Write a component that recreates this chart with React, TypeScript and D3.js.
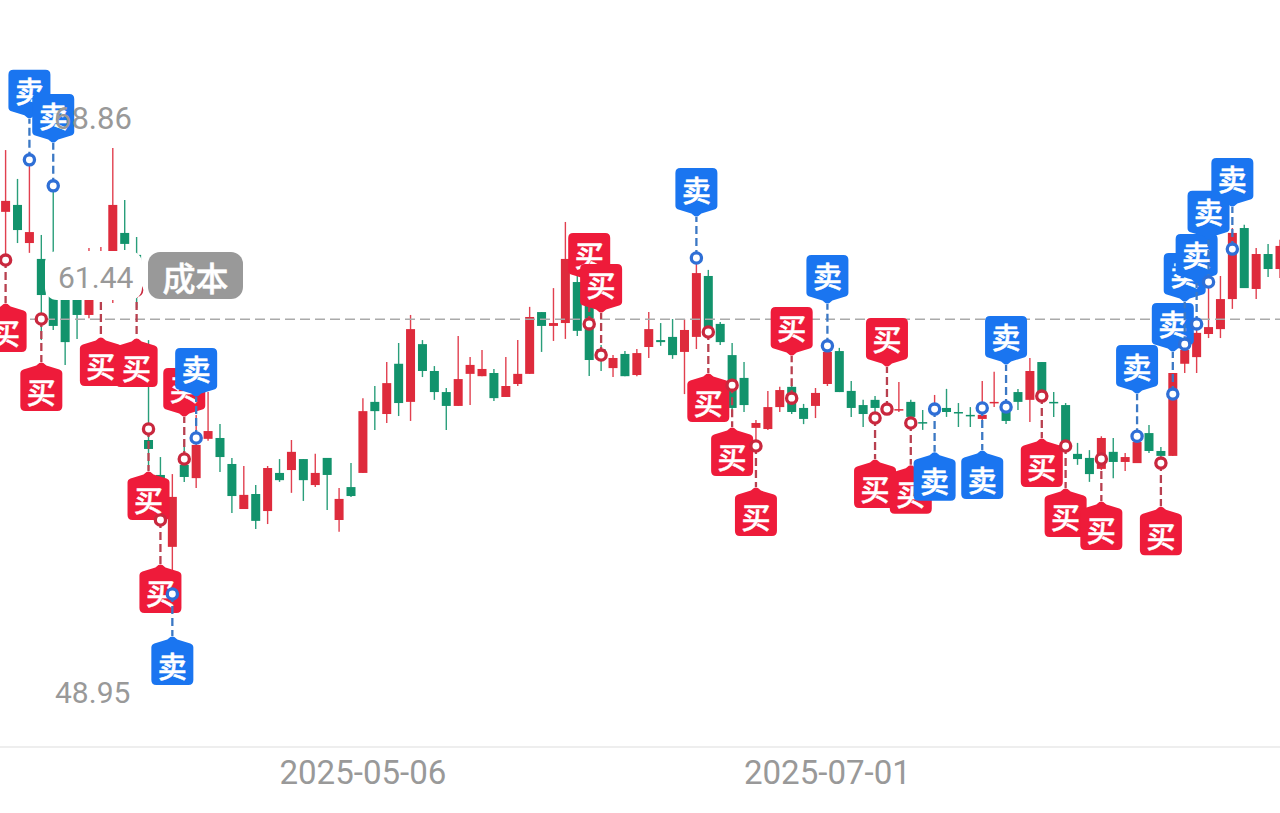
import React from "react";
import * as d3 from "d3";

const opens = [65.16,65.40,64.08,63.53,62.63,62.45,62.39,61.59,62.28,63.15,64.43,63.67,57.26,56.05,53.56,56.40,55.94,57.30,57.33,56.43,54.87,55.39,54.80,56.12,56.22,56.60,55.70,56.64,54.49,55.63,56.12,58.58,58.16,59.90,58.58,60.58,59.65,58.92,58.44,59.55,59.47,59.58,58.75,59.20,59.55,61.69,61.21,61.31,62.73,62.11,60.41,59.75,60.24,59.51,60.48,60.72,60.83,60.31,60.83,62.94,61.28,60.20,59.41,57.68,57.64,58.40,59.10,58.37,58.44,59.20,60.34,58.96,58.47,58.65,58.47,58.30,58.58,57.88,58.26,58.37,58.23,58.13,57.99,58.54,58.23,58.92,58.65,59.96,58.58,58.47,56.78,56.64,56.26,56.85,56.50,56.46,57.50,56.88,56.71,59.90,60.13,60.93,61.10,62.14,64.60,62.49,63.70,63.18];
const closes = [65.54,64.53,64.46,62.28,61.21,60.65,61.59,62.28,63.15,65.40,64.05,62.28,56.95,54.66,55.29,55.98,57.09,57.57,56.67,55.32,55.36,54.46,56.29,55.87,56.85,55.87,56.12,56.05,55.22,55.32,58.26,58.26,59.23,58.54,61.10,59.65,58.92,58.44,59.37,59.86,59.72,58.71,59.13,59.55,61.52,61.21,61.31,63.53,61.04,60.03,60.13,60.10,59.47,60.27,61.10,60.65,60.20,61.07,63.04,61.17,60.65,58.37,58.47,57.85,58.40,58.99,58.23,57.99,58.89,60.31,58.92,58.37,58.16,58.37,58.20,58.33,58.06,57.85,58.44,58.23,58.20,58.09,58.13,58.58,57.92,58.58,59.65,58.82,58.54,57.16,56.60,56.08,57.33,56.50,56.67,57.19,56.88,56.71,59.58,60.38,60.97,61.17,62.14,64.43,62.52,63.70,63.18,63.98];
const highs = [67.30,66.30,66.96,64.36,66.06,62.80,62.63,63.91,63.94,67.37,65.57,64.29,60.72,56.67,56.08,57.26,58.13,58.92,57.81,56.64,56.36,55.70,56.36,56.60,57.26,56.60,56.78,56.64,55.60,56.46,58.71,59.13,59.96,60.62,61.59,60.72,59.82,59.06,60.86,60.13,60.38,59.72,60.13,60.72,61.87,61.69,62.52,64.81,63.15,62.45,60.55,60.20,60.34,60.41,61.69,61.31,61.45,61.45,63.56,63.15,61.35,60.62,59.96,57.95,58.96,59.10,59.16,58.51,59.06,60.52,60.45,59.30,58.65,58.78,58.51,59.27,58.65,58.30,58.82,59.03,58.54,58.40,59.30,59.62,58.58,59.03,60.10,59.96,58.92,58.54,57.16,56.91,57.39,57.33,56.81,57.39,57.78,57.02,59.58,60.58,61.28,62.73,62.94,64.60,64.71,63.91,64.05,64.19];
const lows = [63.49,64.08,63.74,60.72,61.07,59.86,60.76,61.48,62.11,62.00,63.84,61.83,56.22,54.32,51.93,55.81,55.60,57.23,56.15,54.73,54.87,54.18,54.35,55.81,55.43,55.15,55.63,54.84,54.08,55.29,56.12,57.61,57.85,58.09,57.92,59.44,58.65,57.61,58.44,58.47,59.47,58.61,58.75,59.13,59.55,60.31,60.69,60.76,60.86,59.48,59.65,59.44,59.47,59.47,60.10,60.52,60.07,58.85,60.41,60.90,60.55,58.30,58.23,57.02,57.61,58.23,58.16,57.81,58.02,59.13,58.92,58.06,57.71,58.06,58.13,58.23,57.85,57.61,58.23,58.06,57.71,57.71,57.95,58.40,57.81,58.30,57.88,58.75,58.06,57.02,56.40,55.81,56.22,55.94,56.19,56.46,56.81,56.46,56.71,59.58,59.58,60.79,60.79,61.80,62.52,62.14,62.90,62.87];

const buyIndex = [0,3,8,11,12,13,15,49,50,59,61,63,66,73,74,76,87,89,92,97];
const buyPrice = [63.49,61.45,62.45,62.45,57.64,54.49,56.60,61.28,60.20,61.00,59.16,57.05,58.71,58.02,58.33,57.85,58.78,57.05,56.60,56.46];
const buyTagPrice = [62.00,59.96,60.83,60.79,56.19,52.97,58.06,62.73,61.66,59.58,57.71,55.63,60.17,56.60,59.79,56.40,57.33,55.60,55.15,54.97];

const sellIndex = [2,4,14,16,58,69,78,82,84,95,98,99,100,101,103];
const sellPrice = [66.96,66.06,51.93,57.33,63.56,60.52,58.33,58.37,58.40,57.39,58.85,60.58,61.28,62.73,63.87];
const sellTagPrice = [68.38,67.54,50.47,58.75,64.98,61.97,56.85,56.91,59.86,58.85,60.31,62.04,62.70,64.19,65.33];

const priceHigh = 68.86;
const priceLow = 48.95;
const costPrice = 61.44;
const dateIndex = [30, 69];
const dateLabels = ["2025-05-06", "2025-07-01"];

const W = 1280, H = 813;
const x = d3.scaleLinear().domain([0, 107]).range([5.6, 1280]);
const y = d3.scaleLinear().domain([priceLow, priceHigh]).range([680, 105]);

const RED = "#DE2B3C", GREEN = "#12936C";
const TAG_RED = "#EE1B3A", TAG_BLUE = "#1A75F0";
const CJK = '"Noto Sans CJK SC", sans-serif';
const NUM = 'Roboto, sans-serif';

const TW = 42, TH = 41, TP = 8, TR = 5;
function tagPath(cx: number, tip: number, pointsDown: boolean) {
  const s = pointsDown ? -1 : 1;
  const edge = tip + s * TP;
  const far = tip + s * (TP + TH);
  const hw = TW / 2;
  const p = d3.path();
  p.moveTo(cx - 2, tip + s * 1);
  p.quadraticCurveTo(cx, tip, cx + 2, tip + s * 1);
  p.lineTo(cx + 5, tip + s * 3.5);
  p.lineTo(cx + hw - 3, edge - s * 0.5);
  p.quadraticCurveTo(cx + hw, edge + s * 0.5, cx + hw, edge + s * 3.5);
  p.lineTo(cx + hw, far - s * TR);
  p.quadraticCurveTo(cx + hw, far, cx + hw - TR, far);
  p.lineTo(cx - hw + TR, far);
  p.quadraticCurveTo(cx - hw, far, cx - hw, far - s * TR);
  p.lineTo(cx - hw, edge + s * 3.5);
  p.quadraticCurveTo(cx - hw, edge + s * 0.5, cx - hw + 3, edge - s * 0.5);
  p.lineTo(cx - 5, tip + s * 3.5);
  p.closePath();
  return p.toString();
}

type Sig = { i: number; price: number; tag: number; buy: boolean };
const signals: Sig[] = [
  ...buyIndex.map((i, k) => ({ i, price: buyPrice[k], tag: buyTagPrice[k], buy: true })),
  ...sellIndex.map((i, k) => ({ i, price: sellPrice[k], tag: sellTagPrice[k], buy: false })),
].sort((a, b) => a.i - b.i);

export default function App() {
  return (
    <svg width={W} height={H} viewBox={`0 0 ${W} ${H}`}
      style={{ position: "absolute", left: 0, top: 0, background: "#fff", display: "block" }}>
      <g>
        {opens.map((o, i) => {
          const c = closes[i];
          const col = c >= o ? RED : GREEN;
          const top = y(Math.max(o, c));
          const bot = y(Math.min(o, c));
          return (
            <g key={i}>
              <line x1={x(i)} x2={x(i)} y1={y(highs[i])} y2={y(lows[i])} stroke={col} strokeOpacity={0.9} strokeWidth={1.4} />
              <rect x={x(i) - 4.5} width={9} y={top} height={Math.max(1.5, bot - top)} fill={col} />
            </g>
          );
        })}
      </g>
      <line x1={0} x2={W} y1={y(costPrice)} y2={y(costPrice)} stroke="#aaa" strokeWidth={1.5} strokeDasharray="10 5" />
      <line x1={0} x2={W} y1={747} y2={747} stroke="#eee" strokeWidth={2} />

      {signals.map((s, k) => {
        const cx = x(s.i);
        const pointsDown = s.tag > s.price;
        const tip = y(s.tag);
        const far = tip + (pointsDown ? -1 : 1) * (TP + TH);
        const textY = (tip + (pointsDown ? -1 : 1) * TP + far) / 2;
        const fill = s.buy ? TAG_RED : TAG_BLUE;
        return (
          <g key={k}>
            <line x1={cx} x2={cx} y1={y(s.price)} y2={tip} stroke={s.buy ? "#B8404F" : "#3B78C4"} strokeWidth={2.3} strokeDasharray="8 4" />
            <path d={tagPath(cx, tip, pointsDown)} fill={fill} />
            <text x={cx} y={textY} textAnchor="middle" dominantBaseline="central" fill="#fff" stroke="#fff" strokeWidth={0.5}
              fontFamily={CJK} fontWeight={500} fontSize={29}>{s.buy ? "买" : "卖"}</text>
          </g>
        );
      })}
      {signals.map((s, k) => (
        <circle key={k} cx={x(s.i)} cy={y(s.price)} r={5.1} fill="#fff" stroke={s.buy ? "#C9283E" : "#2F6FD6"} strokeWidth={3.3} />
      ))}

      <rect x={45} y={251} width={97} height={49} rx={12} fill="#fff" />
      <rect x={148} y={252} width={95} height={47} rx={12} fill="#999" />
      <text x={195.5} y={277} textAnchor="middle" dominantBaseline="central" fill="#fff" stroke="#fff" strokeWidth={0.5} fontFamily={CJK} fontWeight={500} fontSize={33}>成本</text>
      <text x={58} y={y(costPrice) - 42} dominantBaseline="central" fill="#999" fontFamily={NUM} fontSize={30}>{costPrice.toFixed(2)}</text>
      <text x={54} y={y(priceHigh) + 13} dominantBaseline="central" fill="#999" fontFamily={NUM} fontSize={31}>{priceHigh.toFixed(2)}</text>
      <text x={55} y={y(priceLow) + 12} dominantBaseline="central" fill="#999" fontFamily={NUM} fontSize={30}>{priceLow.toFixed(2)}</text>

      {dateIndex.map((d, k) => (
        <text key={d} x={x(d)} y={772} textAnchor="middle" dominantBaseline="central" fill="#999" fontFamily={NUM} fontSize={33.1}>{dateLabels[k]}</text>
      ))}
    </svg>
  );
}
